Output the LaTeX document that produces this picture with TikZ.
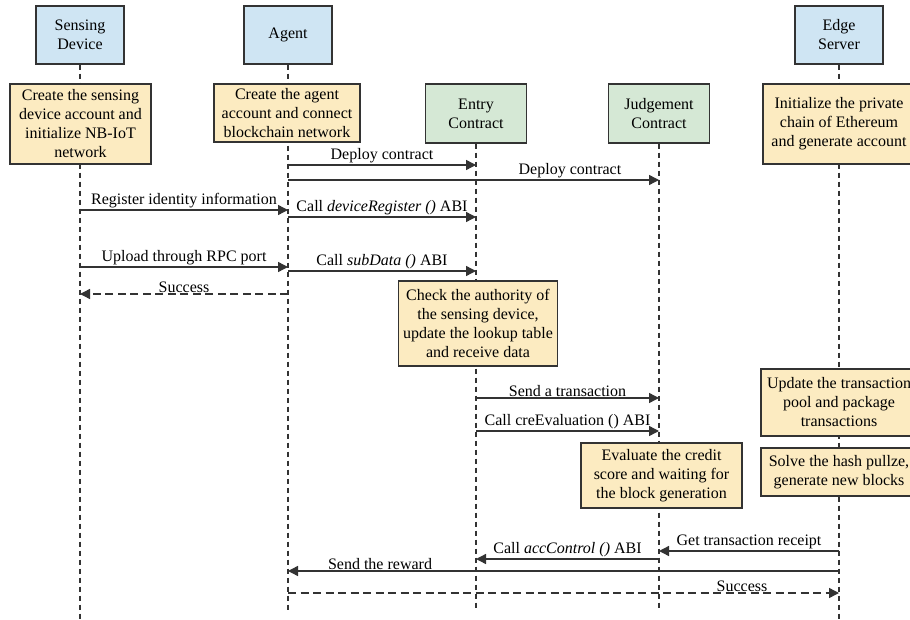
\documentclass[tikz,border=0pt]{standalone}
\usepackage{fontspec}
\setmainfont{Liberation Serif}
\usetikzlibrary{arrows.meta,backgrounds}
\definecolor{actorblue}{HTML}{CFE5F3}
\definecolor{taskyellow}{HTML}{FCEBC1}
\definecolor{contractgreen}{HTML}{D5E8D5}
\definecolor{linegray}{HTML}{333333}
\begin{document}
\begin{tikzpicture}[x=1pt, y=-1pt,
    every node/.style={font=\fontsize{16}{19}\selectfont},
    box/.style={draw=linegray, line width=1.3pt, align=center, inner sep=1pt},
    actor/.style={box, fill=actorblue, minimum width=88pt, minimum height=58pt},
    task/.style={box, fill=taskyellow},
    contract/.style={box, fill=contractgreen, minimum width=101pt, minimum height=59pt},
    lifeline/.style={draw=linegray, line width=1.1pt, dash pattern=on 5pt off 4pt},
    msg/.style={draw=linegray, line width=1.4pt, -{Triangle[length=10pt,width=10pt]}},
    reply/.style={msg, dash pattern=on 8pt off 4.5pt},
    lbl/.style={above, inner sep=1pt}]
    \useasboundingbox (0,0) rectangle (910,620);
    % Participants
    \node[actor] (sd) at (80,35) {Sensing\\Device};
    \node[actor] (ag) at (288,35) {Agent};
    \node[actor] (es) at (839,35) {Edge\\Server};
    \node[contract] (ec) at (476,113.5) {Entry\\Contract};
    \node[contract] (jc) at (659,113.5) {Judgement\\Contract};
    % Setup steps
    \node[task, minimum width=141pt, minimum height=80pt] (sdinit) at (80.5,124)
        {Create the sensing\\device account and\\initialize NB-IoT\\network};
    \node[task, minimum width=146pt, minimum height=58pt] (aginit) at (287,113)
        {Create the agent\\account and connect\\blockchain network};
    \node[task, minimum width=152pt, minimum height=80pt] (esinit) at (839,124)
        {Initialize the private\\chain of Ethereum\\and generate account};
    % Processing steps
    \node[task, minimum width=159pt, minimum height=85pt] (check) at (478,323.5)
        {Check the authority of\\the sensing device,\\update the lookup table\\and receive data};
    \node[task, minimum width=156pt, minimum height=67pt] (update) at (839,402.5)
        {Update the transaction\\pool and package\\transactions};
    \node[task, minimum width=161pt, minimum height=65pt] (eval) at (661.5,475.5)
        {Evaluate the credit\\score and waiting for\\the block generation};
    \node[task, minimum width=156pt, minimum height=48pt] (solve) at (839,472)
        {Solve the hash pullze,\\generate new blocks};
    % Lifelines
    \coordinate (sd end) at (80,620);
    \coordinate (ag end) at (288,610);
    \coordinate (ec end) at (476,610);
    \coordinate (jc end) at (659,610);
    \coordinate (es end) at (839,620);
    \begin{scope}[on background layer]
        \draw[lifeline] (sd.south) -- (sd end);
        \draw[lifeline] (ag.south) -- (ag end);
        \draw[lifeline] (ec.south) -- (ec end);
        \draw[lifeline] (jc.south) -- (jc end);
        \draw[lifeline] (es.south) -- (es end);
    \end{scope}
    % Messages
    \draw[msg] (ag |- 0,165) -- node[lbl] {Deploy contract} (ec |- 0,165);
    \draw[msg] (ag |- 0,180) -- node[lbl, pos=0.76] {Deploy contract} (jc |- 0,180);
    \draw[msg] (sd |- 0,210) -- node[lbl] {Register identity information} (ag |- 0,210);
    \draw[msg] (ag |- 0,217) -- node[lbl] {Call \textit{deviceRegister ()} ABI} (ec |- 0,217);
    \draw[msg] (sd |- 0,267) -- node[lbl] {Upload through RPC port} (ag |- 0,267);
    \draw[msg] (ag |- 0,271) -- node[lbl] {Call \textit{subData ()} ABI} (ec |- 0,271);
    \draw[reply] (ag |- 0,294) -- node[lbl] {Success} (sd |- 0,294);
    \draw[msg] (ec |- 0,398) -- node[lbl] {Send a transaction} (jc |- 0,398);
    \draw[msg] (ec |- 0,431) -- node[lbl] {Call creEvaluation () ABI} (jc |- 0,431);
    \draw[msg] (es |- 0,551) -- node[lbl] {Get transaction receipt} (jc |- 0,551);
    \draw[msg] (jc |- 0,559) -- node[lbl] {Call \textit{accControl ()} ABI} (ec |- 0,559);
    \draw[msg] (es |- 0,571) -- node[lbl, pos=0.833] {Send the reward} (ag |- 0,571);
    \draw[reply] (ag |- 0,593) -- node[lbl, pos=0.824] {Success} (es |- 0,593);
\end{tikzpicture}
\end{document}
